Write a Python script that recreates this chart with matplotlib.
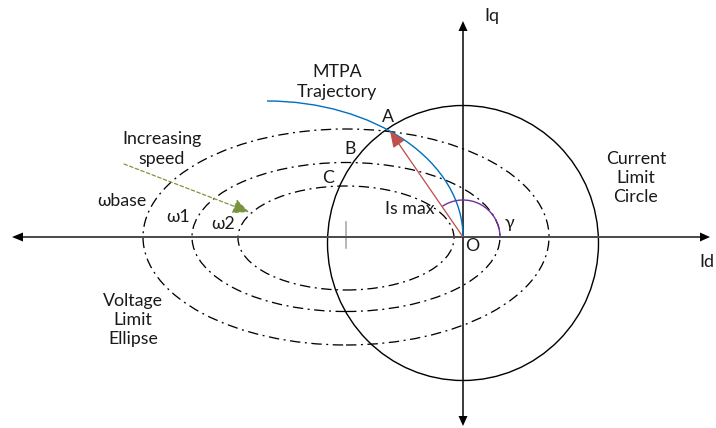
import numpy as np
import matplotlib
matplotlib.use("Agg")
import matplotlib.pyplot as plt
from matplotlib.patches import Ellipse, Arc, Polygon

plt.rcParams['font.family'] = ['Lato', 'Noto Sans', 'DejaVu Sans']

# ---- diagram values (Id / Iq plane, origin at O) ----
# voltage limit ellipses: label, centre Id, centre Iq, semi-axis Id, semi-axis Iq
ellipse_labels = ["ωbase", "ω1", "ω2"]
ellipse_cx = [-117, -117, -117]
ellipse_cy = [0, 0, -1]
ellipse_a = [203, 154, 108]
ellipse_b = [108, 74.5, 52]

# current limit circle
circle_center = (0, -6)
circle_width = 271
circle_height = 275

# MTPA trajectory (quarter ellipse ending at O)
mtpa_center = (-196, 0)
mtpa_a = 196
mtpa_b = 136

# operating point A and current vector Is max
point_A = (-73, 106)
gamma_radius = 37

# "increasing speed" arrow
speed_start = (-339, 73)
speed_end = (-214, 25)

# ellipse centre marker
centre_mark = (-117, -11, 15)

# axis extents
x_min, x_max = -463, 253
y_min, y_max = -191, 237
id_axis = (-451, 247)
iq_axis = (-189, 216)

fig = plt.figure(figsize=(7.16, 4.28), dpi=100)
ax = fig.add_axes([0, 0, 1, 1])
ax.set_xlim(x_min, x_max)
ax.set_ylim(y_min, y_max)
ax.axis('off')

PT = 72 / 100  # points per pixel

# axes with arrowheads
def arrow_head(tip, direction, length, width, color):
    d = np.array(direction, float)
    d /= np.linalg.norm(d)
    n = np.array([-d[1], d[0]])
    tip = np.array(tip, float)
    base = tip - d * length
    pts = [tip, base + n * width / 2, base - n * width / 2]
    ax.add_patch(Polygon(pts, closed=True, color=color, lw=0, zorder=5))

ax.plot([id_axis[0] + 10, id_axis[1] - 9], [0, 0], color='#4d4d4d', lw=2 * PT, zorder=4,
        solid_capstyle='butt')
arrow_head((id_axis[0], 0), (-1, 0), 11, 9, 'black')
arrow_head((id_axis[1], 0), (1, 0), 10, 9, 'black')

ax.plot([0, 0], [iq_axis[0] + 10, iq_axis[1] - 10], color='black', lw=1.5 * PT, zorder=4,
        solid_capstyle='butt')
arrow_head((0, iq_axis[1]), (0, 1), 10, 9, 'black')
arrow_head((0, iq_axis[0]), (0, -1), 10, 9, 'black')

# voltage limit ellipses
for cx, cy, a, b in zip(ellipse_cx, ellipse_cy, ellipse_a, ellipse_b):
    ax.add_patch(Ellipse((cx, cy), 2 * a, 2 * b, fill=False, edgecolor='black',
                         lw=1.3 * PT, linestyle=(0, (8, 3.5, 1.5, 3.5)), zorder=3))

# ellipse centre marker
ax.plot([centre_mark[0]] * 2, centre_mark[1:], color='#a6a6a6', lw=1.6 * PT, zorder=3)

# current limit circle
ax.add_patch(Ellipse(circle_center, circle_width, circle_height, fill=False,
                     edgecolor='black', lw=1.4 * PT, zorder=3))

# MTPA trajectory
ax.add_patch(Arc(mtpa_center, 2 * mtpa_a, 2 * mtpa_b, theta1=0, theta2=90,
                 edgecolor='#0070C0', lw=1.4 * PT, zorder=4))

# current vector Is max
ax.annotate('', xy=point_A, xytext=(0, 0),
            arrowprops=dict(arrowstyle='-|>,head_length=0.7,head_width=0.3',
                            color='#C0504D', lw=1.3 * PT, shrinkA=0, shrinkB=0,
                            mutation_scale=14),
            zorder=6)

# angle gamma
gamma_deg = np.degrees(np.arctan2(point_A[1], point_A[0]))
ax.add_patch(Arc((0, 0), 2 * gamma_radius, 2 * gamma_radius, theta1=0, theta2=gamma_deg,
                 edgecolor='#7030A0', lw=1.4 * PT, zorder=5))

# increasing speed arrow
ax.annotate('', xy=speed_end, xytext=speed_start,
            arrowprops=dict(arrowstyle='-|>,head_length=0.7,head_width=0.32',
                            color='#77933C', lw=1.2 * PT, linestyle=(0, (3, 2)),
                            shrinkA=0, shrinkB=0, mutation_scale=14),
            zorder=6)

# labels
tc = '#1a1a1a'
fs = 12.8
def px(x, y):
    return x - 463, 237 - y

def label(text, x, y, ha='center', **kw):
    ax.text(*px(x, y), text, ha=ha, va='center', fontsize=fs, color=tc,
            linespacing=1.25, zorder=7, **kw)

label("MTPA\nTrajectory", 337, 82)
label("A", 388, 117)
label("B", 350, 149)
label("C", 328, 178)
label("Is max", 410, 209)
label("O", 472, 246)
label("γ", 509, 223)
label("Iq", 492, 16)
label("Id", 714, 262, ha='right')
label("Current\nLimit\nCircle", 636, 178)
label("Increasing\nspeed", 162, 149)
label(ellipse_labels[0], 122, 201)
label(ellipse_labels[1], 178, 217)
label(ellipse_labels[2], 223, 224)
label("Voltage\nLimit\nEllipse", 133, 320)

fig.savefig("out.png", dpi=100)
